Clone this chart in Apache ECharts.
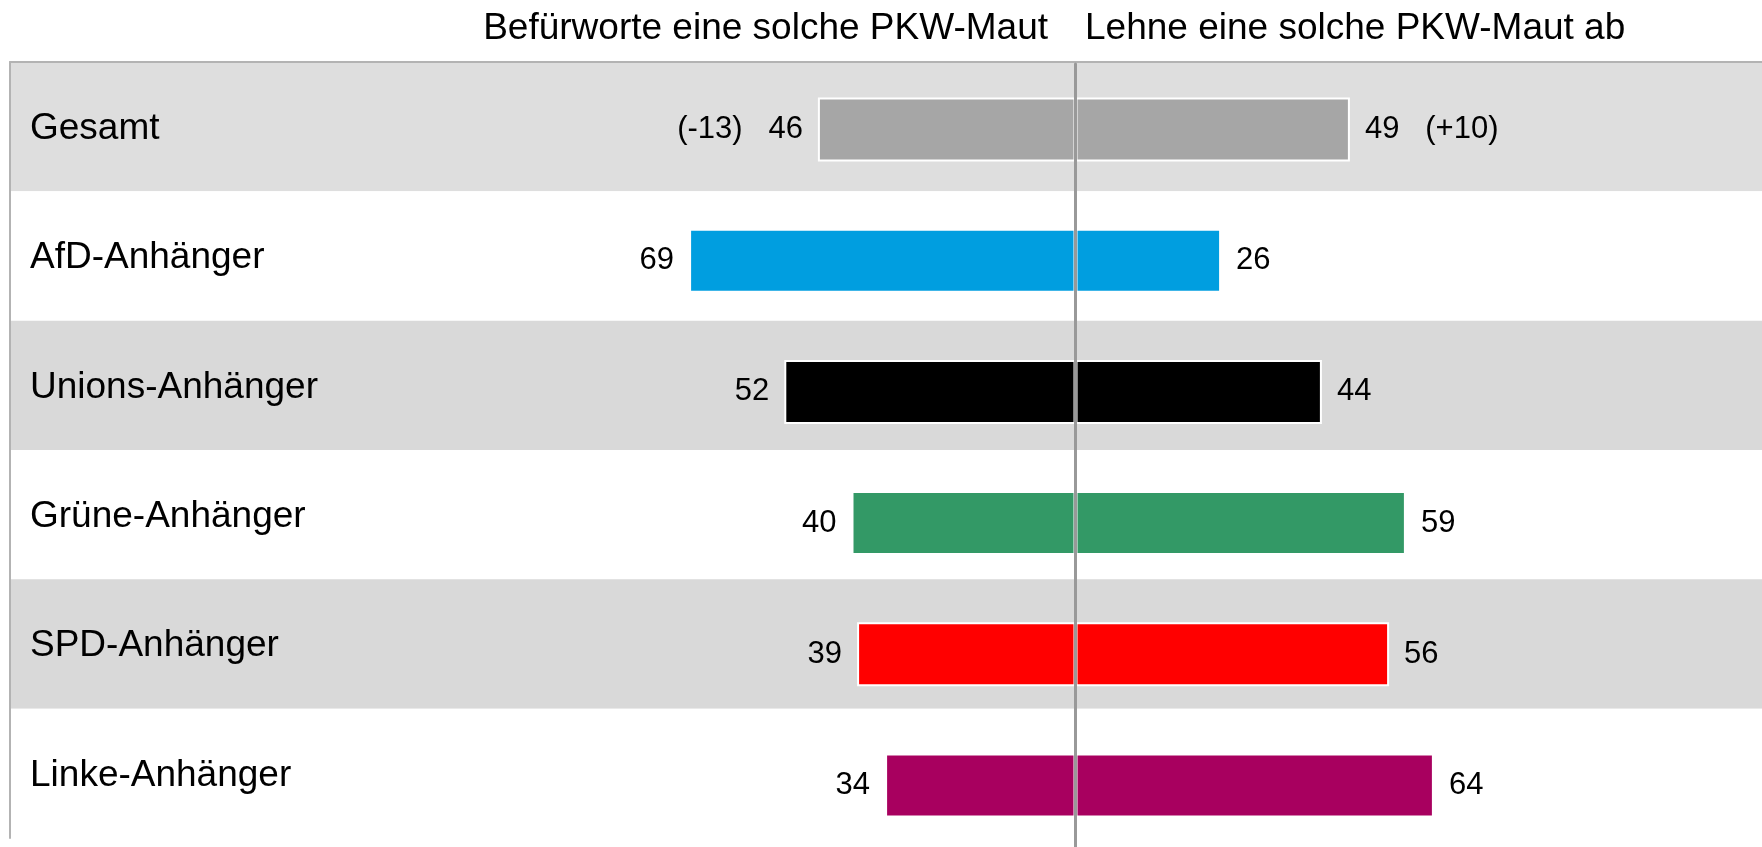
<!DOCTYPE html>
<html>
<head>
<meta charset="utf-8">
<script src="https://cdn.jsdelivr.net/npm/echarts@6/dist/echarts.min.js"></script>
<style>
html,body{margin:0;padding:0;background:#fff;}
#chart{width:1762px;height:847px;}
</style>
</head>
<body>
<div id="chart"></div>
<script>
const categories = ['Gesamt', 'AfD-Anhänger', 'Unions-Anhänger', 'Grüne-Anhänger', 'SPD-Anhänger', 'Linke-Anhänger'];
const befuerworte = [46, 69, 52, 40, 39, 34];
const ablehnen = [49, 26, 44, 59, 56, 64];
const changeBefuerworte = [-13, null, null, null, null, null];
const changeAblehnen = [10, null, null, null, null, null];
const barColors = ['#a6a6a6', '#009ee0', '#000000', '#339966', '#ff0000', '#a8005f'];
const bandColors = ['#dedede', '#ffffff', '#d9d9d9', '#ffffff', '#d9d9d9', '#ffffff'];
const headerLeft = 'Befürworte eine solche PKW-Maut';
const headerRight = 'Lehne eine solche PKW-Maut ab';

const FONT = "'Liberation Sans', Arial, sans-serif";

function fmtChange(c) {
  if (c === null || c === undefined) return '';
  return '(' + (c > 0 ? '+' : '') + c + ')';
}

const chart = echarts.init(document.getElementById('chart'), null, {renderer: 'canvas'});

const leftData = befuerworte.map((v, i) => ({
  value: -v,
  itemStyle: {color: barColors[i]}
}));
const rightData = ablehnen.map((v, i) => ({
  value: v,
  itemStyle: {color: barColors[i]}
}));

chart.setOption({
  animation: false,
  backgroundColor: '#ffffff',
  textStyle: {fontFamily: FONT},
  title: [
    {text: headerLeft, right: 714, top: 10, padding: 0,
     textStyle: {fontFamily: FONT, fontSize: 37, fontWeight: 'normal', color: '#000'}},
    {text: headerRight, left: 1085, top: 10, padding: 0,
     textStyle: {fontFamily: FONT, fontSize: 37, fontWeight: 'normal', color: '#000'}}
  ],
  grid: [
    {left: 10, right: 0, top: 62, bottom: 9, containLabel: false, outerBoundsMode: 'none'},
    {left: 515.5, width: 1120, top: 64, height: 787, containLabel: false, outerBoundsMode: 'none'}
  ],
  xAxis: [
    {type: 'value', gridIndex: 0, position: 'top', min: 0, max: 1,
     axisLine: {show: true, onZero: false, lineStyle: {color: '#b3b3b3', width: 2}},
     axisTick: {show: false}, axisLabel: {show: false}, splitLine: {show: false}},
    {type: 'value', gridIndex: 1, min: -100, max: 100, show: false}
  ],
  yAxis: [
    {type: 'category', gridIndex: 0, data: categories, inverse: true,
     axisLine: {show: true, onZero: false, lineStyle: {color: '#b3b3b3', width: 2}},
     axisTick: {show: false},
     axisLabel: {show: true, inside: true, margin: 20, align: 'left',
                 verticalAlign: 'top', lineHeight: 4,
                 fontSize: 37, color: '#000', fontFamily: FONT},
     splitLine: {show: false},
     splitArea: {show: true, areaStyle: {color: bandColors}}},
    {type: 'category', gridIndex: 1, data: categories, inverse: true, z: 10,
     axisLine: {show: true, onZero: true, lineStyle: {color: '#999999', width: 3}},
     axisTick: {show: false}, axisLabel: {show: false}, splitLine: {show: false}}
  ],
  series: [
    {name: headerLeft, type: 'bar', xAxisIndex: 1, yAxisIndex: 1, stack: 'total',
     barWidth: 64, data: leftData,
     itemStyle: {borderColor: '#ffffff', borderWidth: 2},
     label: {show: true, position: 'left', distance: 15, fontSize: 31, color: '#000', fontFamily: FONT,
       formatter: p => {
         const c = fmtChange(changeBefuerworte[p.dataIndex]);
         return (c ? c + '   ' : '') + befuerworte[p.dataIndex];
       }}},
    {name: headerRight, type: 'bar', xAxisIndex: 1, yAxisIndex: 1, stack: 'total',
     barWidth: 64, data: rightData,
     itemStyle: {borderColor: '#ffffff', borderWidth: 2},
     label: {show: true, position: 'right', distance: 15, fontSize: 31, color: '#000', fontFamily: FONT,
       formatter: p => {
         const c = fmtChange(changeAblehnen[p.dataIndex]);
         return ablehnen[p.dataIndex] + (c ? '   ' + c : '');
       }}}
  ]
});
</script>
</body>
</html>
